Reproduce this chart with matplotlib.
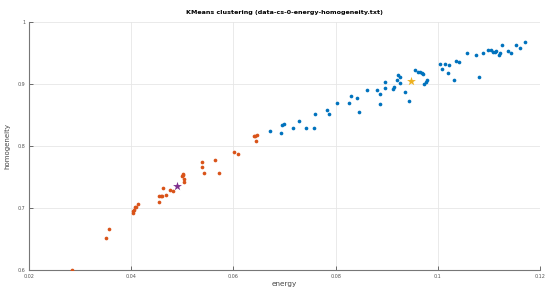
import numpy as np
import matplotlib
matplotlib.use("Agg")
import matplotlib.pyplot as plt

# cluster 1 (orange) - energy / homogeneity
energy_1 = [0.0285, 0.0351, 0.0356, 0.0403, 0.0404, 0.0406, 0.0407, 0.0409, 0.0413,
            0.0454, 0.0454, 0.0458, 0.0461, 0.0463, 0.0468, 0.0477, 0.0481,
            0.0499, 0.0501, 0.0502, 0.0503, 0.0504, 0.0538, 0.0538, 0.0542,
            0.0564, 0.0571, 0.0601, 0.0610, 0.0640, 0.0643, 0.0646, 0.0644]
homog_1 = [0.600, 0.6526, 0.666, 0.693, 0.695, 0.698, 0.7016, 0.7026, 0.707,
           0.7106, 0.7193, 0.7198, 0.720, 0.7323, 0.721, 0.730, 0.7274,
           0.752, 0.754, 0.756, 0.747, 0.743, 0.775, 0.766, 0.757,
           0.778, 0.757, 0.791, 0.787, 0.816, 0.817, 0.818, 0.8085]

# cluster 2 (blue)
energy_2 = [0.0671, 0.0693, 0.0695, 0.0699, 0.0717, 0.0728, 0.0742, 0.0757, 0.0760,
            0.0784, 0.0788, 0.0803, 0.0826, 0.0831, 0.0842, 0.0845, 0.0862, 0.0881,
            0.0886, 0.0886, 0.0896, 0.0897, 0.0912, 0.0915, 0.0921, 0.0923, 0.0925,
            0.0925, 0.0935, 0.0943, 0.0955, 0.0961, 0.0966, 0.0969, 0.0971, 0.0972,
            0.0976, 0.0979, 0.1004, 0.1008, 0.1014, 0.1021, 0.1019, 0.1032, 0.1035,
            0.1041, 0.1057, 0.1075, 0.1080, 0.1088, 0.1099, 0.1103, 0.1107, 0.1111,
            0.1114, 0.1119, 0.1121, 0.1125, 0.1138, 0.1144, 0.1152, 0.1160, 0.1170]
homog_2 = [0.825, 0.822, 0.834, 0.836, 0.830, 0.841, 0.8295, 0.829, 0.8516,
           0.8585, 0.852, 0.870, 0.870, 0.881, 0.878, 0.855, 0.891, 0.891,
           0.884, 0.869, 0.9033, 0.894, 0.893, 0.895, 0.907, 0.915, 0.912,
           0.903, 0.888, 0.8735, 0.9226, 0.920, 0.920, 0.919, 0.916, 0.9005,
           0.9037, 0.907, 0.933, 0.925, 0.933, 0.931, 0.918, 0.9075, 0.938,
           0.9355, 0.951, 0.948, 0.912, 0.950, 0.956, 0.955, 0.953, 0.9526,
           0.9537, 0.9468, 0.950, 0.963, 0.954, 0.951, 0.963, 0.9585, 0.9687]

# centroids
centroid_1 = [0.0489, 0.7355]
centroid_2 = [0.0948, 0.905]

xticks = [0.02, 0.04, 0.06, 0.08, 0.1, 0.12]
xticklabels = ["0.02", "0.04", "0.06", "0.08", "0.1", "0.12"]
yticks = [0.6, 0.7, 0.8, 0.9, 1.0]
yticklabels = ["0.6", "0.7", "0.8", "0.9", "1"]

fig = plt.figure(figsize=(5.45, 2.91), dpi=100)
ax = fig.add_axes([0.053, 0.071, 0.938, 0.852])

ax.scatter(energy_1, homog_1, s=7, color="#D95319", zorder=3, linewidths=0)
ax.scatter(energy_2, homog_2, s=7, color="#0072BD", zorder=3, linewidths=0)
ax.scatter([centroid_1[0]], [centroid_1[1]], s=45, marker="*", color="#7E2F8E", zorder=4, linewidths=0)
ax.scatter([centroid_2[0]], [centroid_2[1]], s=45, marker="*", color="#EDB120", zorder=4, linewidths=0)

ax.set_xlim(0.02, 0.12)
ax.set_ylim(0.6, 1.0)
ax.set_xticks(xticks)
ax.set_xticklabels(xticklabels)
ax.set_yticks(yticks)
ax.set_yticklabels(yticklabels)
ax.tick_params(direction="in", length=3, width=0.6, labelsize=3.5, colors="#555555", pad=2.5)
ax.grid(True, color="#e6e6e6", linewidth=0.6)
ax.set_axisbelow(True)
for s in ["top", "right"]:
    ax.spines[s].set_visible(False)
for s in ["left", "bottom"]:
    ax.spines[s].set_color("#777777")
    ax.spines[s].set_linewidth(0.8)

ax.set_xlabel("energy", fontsize=5.2, color="#444444", labelpad=1.5)
ax.set_ylabel("homogeneity", fontsize=5, color="#444444", labelpad=5)
ax.set_title("KMeans clustering (data-cs-0-energy-homogeneity.txt)", fontsize=4.6,
             fontweight="bold", pad=6)

plt.savefig("out.png", dpi=100)
